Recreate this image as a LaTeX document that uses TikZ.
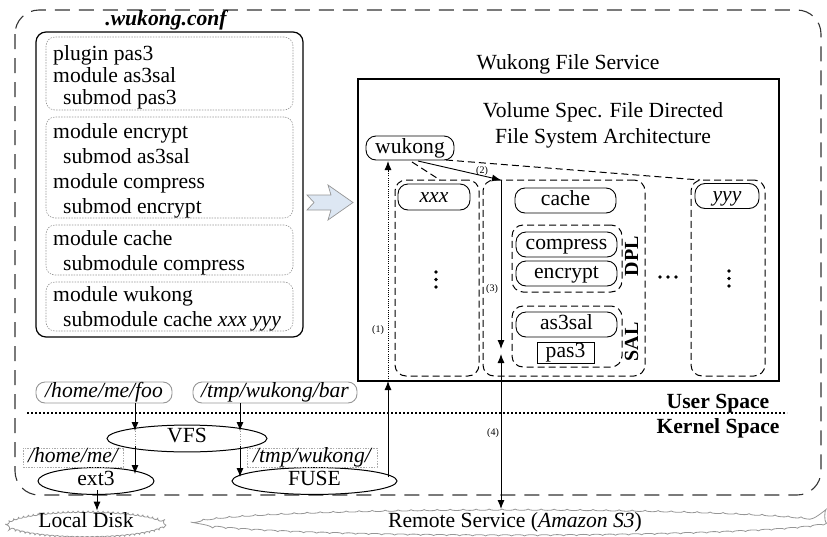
\documentclass[tikz,border=0pt]{standalone}
\usepackage{fontspec}
\setmainfont{Liberation Serif}
\usetikzlibrary{shapes.geometric,arrows.meta,decorations.pathmorphing}
\definecolor{arrowfill}{RGB}{221,231,243}
\definecolor{edgegray}{RGB}{150,150,150}
\newcommand{\mainfs}{\fontsize{21.6}{21.6}\selectfont}
\begin{document}
\begin{tikzpicture}[x=1pt,y=-1pt,
  every node/.style={font=\mainfs, inner sep=0pt, text height=14.5pt, text depth=4.5pt},
  freetext/.style={yshift=-2.5pt},
  outerbox/.style={draw=black!80, line width=1.1pt, dash pattern=on 15pt off 9pt, rounded corners=24pt},
  confbox/.style={draw, line width=1.2pt, rounded corners=10pt},
  cfgpart/.style={draw=edgegray, line width=0.6pt, dash pattern=on 1.5pt off 1.2pt, rounded corners=9pt, minimum width=247pt},
  cfgline/.style={anchor=west, yshift=-2pt},
  modbox/.style={draw, line width=0.9pt, rounded corners=10pt, minimum height=25pt},
  colbox/.style={draw, line width=1pt, dash pattern=on 7pt off 4pt, rounded corners=11pt},
  grpbox/.style={draw, line width=1pt, dash pattern=on 7pt off 4pt, rounded corners=11pt, minimum width=110pt},
  sidelabel/.style={rotate=90, font=\fontsize{20}{20}\selectfont\bfseries},
  small/.style={font=\fontsize{10}{10}\selectfont, text height=7pt, text depth=2pt},
  arr/.style={-{Latex[length=9pt,width=7pt]}, line width=0.9pt},
  dblarr/.style={{Latex[length=9pt,width=7pt]}-{Latex[length=9pt,width=7pt]}, line width=0.9pt},
  pathbox/.style={draw=edgegray, line width=0.9pt, rounded corners=9pt, minimum height=21pt, font=\mainfs\itshape},
  dotbox/.style={draw=edgegray!80, line width=0.6pt, dash pattern=on 1.5pt off 1.2pt, minimum height=19pt, font=\mainfs\itshape},
  ell/.style={draw, ellipse, line width=1pt},
  cloudy/.style={draw=edgegray, line width=0.8pt, ellipse, decorate, decoration={bumps, segment length=10pt, amplitude=1.5pt}},
  brush/.style={draw=edgegray, line width=0.8pt, ellipse, decorate, decoration={bumps, segment length=26pt, amplitude=1.2pt}},
  dot/.style={fill=black}
]
\useasboundingbox (0,0) rectangle (827,536);

% outer dashed region
\draw[outerbox] (15,10) rectangle (821,495);
\node[font=\mainfs\bfseries\itshape] (conftitle) at (166,20) {.wukong.conf};

% configuration file
\node[confbox, minimum width=267pt, minimum height=305pt] (conf) at (169.5,184.5) {};
\node[cfgpart, minimum height=73pt] (part1) at (169.5,73.5) {};
\node[cfgpart, minimum height=101pt] (part2) at (169.5,167.5) {};
\node[cfgpart, minimum height=50pt] (part3) at (169.5,250) {};
\node[cfgpart, minimum height=49pt] (part4) at (169.5,306.5) {};
\node[cfgline] (l1) at (53,53) {plugin pas3};
\node[cfgline] (l2) at (53,75) {module as3sal};
\node[cfgline] (l3) at (63,97) {submod pas3};
\node[cfgline] (l4) at (53,131) {module encrypt};
\node[cfgline] (l5) at (63,156) {submod as3sal};
\node[cfgline] (l6) at (53,181) {module compress};
\node[cfgline] (l7) at (63,206) {submod encrypt};
\node[cfgline] (l8) at (53,238) {module cache};
\node[cfgline] (l9) at (63,263) {submodule compress};
\node[cfgline] (l10) at (53,294) {module wukong};
\node[cfgline] (l11) at (63,319) {submodule cache \textit{xxx yyy}};

% block arrow
\draw[draw=edgegray, fill=arrowfill, line width=0.7pt]
  (307,195) -- (331,195) -- (328,185) -- (353,202.5) -- (328,220) -- (331,210) -- (307,210) -- (314,202.5) -- cycle;

% Wukong File Service
\node[freetext] (wfstitle) at (568,62) {Wukong File Service};
\node[draw, line width=1.1pt, minimum width=421pt, minimum height=302pt] (wfs) at (568.5,230) {};
\node[freetext] (vol1) at (603,110) {Volume Spec. File Directed};
\node[freetext] (vol2) at (603,136) {File System Architecture};

\node[modbox, minimum width=88pt, minimum height=24pt] (wukong) at (410,148) {wukong};

% columns
\node[colbox, minimum width=84pt, minimum height=196pt] (xcol) at (437,278) {};
\node[colbox, minimum width=162pt, minimum height=196pt] (mcol) at (564,278) {};
\node[colbox, minimum width=74pt, minimum height=196pt] (ycol) at (728,278) {};

\node[modbox, minimum width=72pt, minimum height=26pt, font=\mainfs\itshape] (xxx) at (434,197) {xxx};
\node[modbox, minimum width=64pt, font=\mainfs\itshape] (yyy) at (727,196) {yyy};
\foreach \yy in {272,279.5,287} {
  \fill[dot] (436,\yy) circle (1.9pt);
  \fill[dot] (729,\yy-1) circle (1.9pt);
}
\foreach \xx in {660,668,676} \fill[dot] (\xx,277) circle (1.9pt);

\node[modbox, minimum width=101pt] (cache) at (565.5,200.5) {cache};
\node[grpbox, minimum height=67pt] (dpl) at (567,258.5) {};
\node[modbox, minimum width=101pt] (compress) at (566.5,244.5) {compress};
\node[modbox, minimum width=101pt] (encrypt) at (566.5,273.5) {encrypt};
\node[sidelabel] (dpllab) at (633,256) {DPL};

\node[grpbox, minimum height=61pt] (sal) at (567,336.5) {};
\node[modbox, minimum width=101pt] (as3sal) at (566.5,324.5) {as3sal};
\node[draw, line width=0.9pt, minimum width=57pt, minimum height=21pt] (pas3) at (565.5,352.5) {pas3};
\node[sidelabel] (sallab) at (633,342) {SAL};

% dashed links from wukong
\coordinate (dA) at (412,162);
\coordinate (dB) at (440,180);
\coordinate (dC) at (446,160);
\coordinate (dD) at (700,180);
\draw[line width=1pt, dash pattern=on 7pt off 4pt] (dA) -- (dB);
\draw[line width=1pt, dash pattern=on 7pt off 4pt] (dC) -- (dD);

% (2) and (3)
\coordinate (w2) at (418,161);
\coordinate (p2) at (501,180);
\coordinate (p3) at (501,349);
\coordinate (p4) at (501,354);
\draw[arr] (w2) -- (p2);
\node[small] (lab2) at (482,171) {(2)};
\draw[arr] (p2) -- (p3);
\node[small] (lab3) at (492,289) {(3)};

% user/kernel
\coordinate (ukL) at (27,413);
\coordinate (ukR) at (787,413);
\draw[line width=1.6pt, dash pattern=on 2pt off 2pt] (ukL) -- (ukR);
\node[freetext, font=\mainfs\bfseries] (user) at (718,401) {User Space};
\node[freetext, font=\mainfs\bfseries] (kernel) at (718,426) {Kernel Space};

% paths
\node[pathbox, minimum width=136pt] (foo) at (104,392.5) {/home/me/foo};
\node[pathbox, minimum width=164pt] (bar) at (275,392.5) {/tmp/wukong/bar};
\node[ell, minimum width=160pt, minimum height=17pt] (vfs) at (187,438.5) {};
\node (vfst) at (187,437) {VFS};
\node[ell, minimum width=116pt, minimum height=18pt] (ext3) at (96,481) {};
\node (ext3t) at (96,480) {ext3};
\node[ell, minimum width=165pt, minimum height=18pt] (fuse) at (314.5,481) {};
\node (fuset) at (314.5,480) {FUSE};
\node[dotbox, minimum width=100pt] (homeme) at (73,457.5) {/home/me/};
\node[dotbox, minimum width=130pt] (tmpw) at (312,457.5) {/tmp/wukong/};

\coordinate (a1) at (135,431);
\coordinate (a2) at (240,431);
\coordinate (b1) at (135,446);
\coordinate (b2) at (240,446);
\coordinate (c1) at (135,474);
\coordinate (c2) at (240,477);
\draw[arr] (foo.south -| a1) -- (a1);
\draw[arr] (bar.south -| a2) -- (a2);
\draw[edgegray, line width=0.5pt, dash pattern=on 1pt off 1.5pt] (a1) -- (b1) (a2) -- (b2);
\draw[arr] (b1) -- (c1);
\draw[arr] (b2) -- (c2);

% (1)
\coordinate (f1) at (388,477);
\coordinate (f2) at (388,381);
\coordinate (f3) at (388,161);
\draw[arr] (f1) -- (f2);
\draw[-{Latex[length=9pt,width=7pt]}, line width=0.9pt, dash pattern=on 1pt off 1.2pt] (f2) -- (f3);
\node[small] (lab1) at (378,330) {(1)};

% clouds
\node[cloudy, minimum width=158pt, minimum height=22pt] (disk) at (86,524.5) {};
\node (diskt) at (86,522) {Local Disk};
\node[brush, minimum width=630pt, minimum height=25pt] (remote) at (511,522.5) {};
\node (remotet) at (515,522) {Remote Service (\textit{Amazon S3})};

\coordinate (e1) at (97,490);
\draw[arr] (e1) -- (e1 |- disk.north);
\coordinate (r1) at (501,509);
\draw[dblarr] (p4) -- (r1);
\node[small] (lab4) at (493,433) {(4)};
\end{tikzpicture}
\end{document}
